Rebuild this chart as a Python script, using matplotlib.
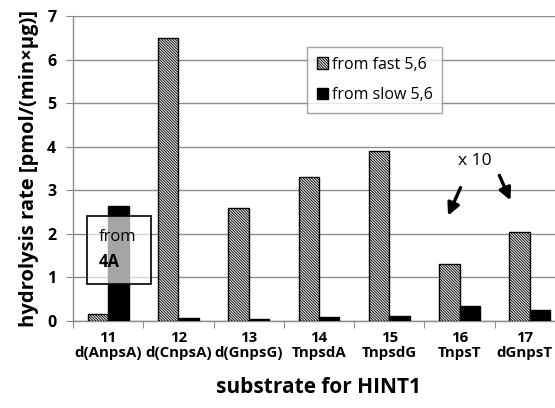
import matplotlib
matplotlib.use("Agg")
import matplotlib.pyplot as plt
import numpy as np
from matplotlib.patches import Rectangle

plt.rcParams['font.family'] = ['Open Sans', 'DejaVu Sans']
plt.rcParams['hatch.linewidth'] = 0.6

numbers = ["11", "12", "13", "14", "15", "16", "17"]
names = ["d(AnpsA)", "d(CnpsA)", "d(GnpsG)", "TnpsdA", "TnpsdG", "TnpsT", "dGnpsT"]
fast = [0.15, 6.5, 2.6, 3.3, 3.9, 1.3, 2.04]
slow = [2.63, 0.08, 0.05, 0.1, 0.11, 0.35, 0.25]
yticks = [0, 1, 2, 3, 4, 5, 6, 7]

W, H = 555, 408
fig = plt.figure(figsize=(W / 100, H / 100), dpi=100)
ax = fig.add_axes([73 / W, 1 - 321 / H, (565 - 73) / W, (321 - 16) / H])

x = np.arange(len(numbers))
bw = 0.29
ax.bar(x - bw / 2, fast, bw, facecolor='#e4e4e4', edgecolor='black', hatch='\\' * 12,
       linewidth=1.0, label='from fast 5,6', zorder=3)
ax.bar(x + bw / 2, slow, bw, facecolor='black', edgecolor='black',
       linewidth=1.0, label='from slow 5,6', zorder=3)

ax.set_xlim(-0.5, len(numbers) - 0.5)
ax.set_ylim(0, 7)
ax.set_yticks(yticks)
ax.set_yticklabels([str(t) for t in yticks], fontsize=11.5, fontweight='bold')
ax.yaxis.grid(True, color='#8c8c8c', linewidth=1.0, zorder=0)
ax.set_axisbelow(True)

ax.set_xticks(np.arange(len(numbers) + 1) - 0.5)
ax.set_xticklabels([])
# label positions (invisible minor ticks); the last one is pulled in a little so it fits the picture
label_pos = x.astype(float)
label_pos[-1] -= 0.08
ax.set_xticks(label_pos, minor=True)
ax.set_xticklabels([f"{n}\n{m}" for n, m in zip(numbers, names)], minor=True,
                   fontsize=10.8, fontweight='bold', linespacing=1.15)
ax.tick_params(axis='x', which='minor', length=0, pad=7)
ax.tick_params(axis='x', which='major', length=5, color='#8c8c8c', direction='out')
ax.tick_params(axis='y', length=5, color='#8c8c8c', direction='out', pad=7)

for s in ['top', 'right']:
    ax.spines[s].set_visible(False)
for s in ['left', 'bottom']:
    ax.spines[s].set_color('#8c8c8c')
    ax.spines[s].set_linewidth(1.0)

ax.set_ylabel("hydrolysis rate [pmol/(min×μg)]", fontsize=14.5, fontweight='bold', labelpad=6)
ax.set_xlabel("substrate for HINT1", fontsize=15, fontweight='bold', labelpad=12)

leg = ax.legend(loc='upper left', bbox_to_anchor=((307 - 73) / (565 - 73), (321 - 47) / (321 - 16)),
                frameon=True, fancybox=False, fontsize=11.5, handlelength=0.7, handleheight=0.7,
                handletextpad=0.25, labelspacing=0.9, borderpad=0.6, borderaxespad=0)
leg.get_frame().set_edgecolor('#8c8c8c')
leg.get_frame().set_linewidth(1.0)

# "from 4A" box
bx0 = -0.5 + (87 - 73) / 70.3
bw_box = (151 - 87) / 70.3
ax.add_patch(Rectangle((bx0, 0.85), bw_box, 1.55,
                       facecolor='white', alpha=0.65, edgecolor='none', zorder=4))
ax.add_patch(Rectangle((bx0, 0.85), bw_box, 1.55,
                       facecolor='none', edgecolor='black', linewidth=1.2, zorder=5))
ax.text(-0.5 + (99 - 73) / 70.3, 1.93, "from", fontsize=12, va='center', ha='left', zorder=6)
ax.text(-0.5 + (99 - 73) / 70.3, 1.35, "4A", fontsize=12, fontweight='bold', va='center', ha='left', zorder=6)

# x 10 annotation
ax.text(5.22, 3.68, "x 10", fontsize=12.5, ha='center', va='center')
ax.annotate("", xy=(4.82, 2.36), xytext=(5.03, 3.12),
            arrowprops=dict(arrowstyle='-|>', color='black', lw=2.4, mutation_scale=18))
ax.annotate("", xy=(5.74, 2.71), xytext=(5.55, 3.40),
            arrowprops=dict(arrowstyle='-|>', color='black', lw=2.4, mutation_scale=18))

fig.savefig("out.png", dpi=100)
